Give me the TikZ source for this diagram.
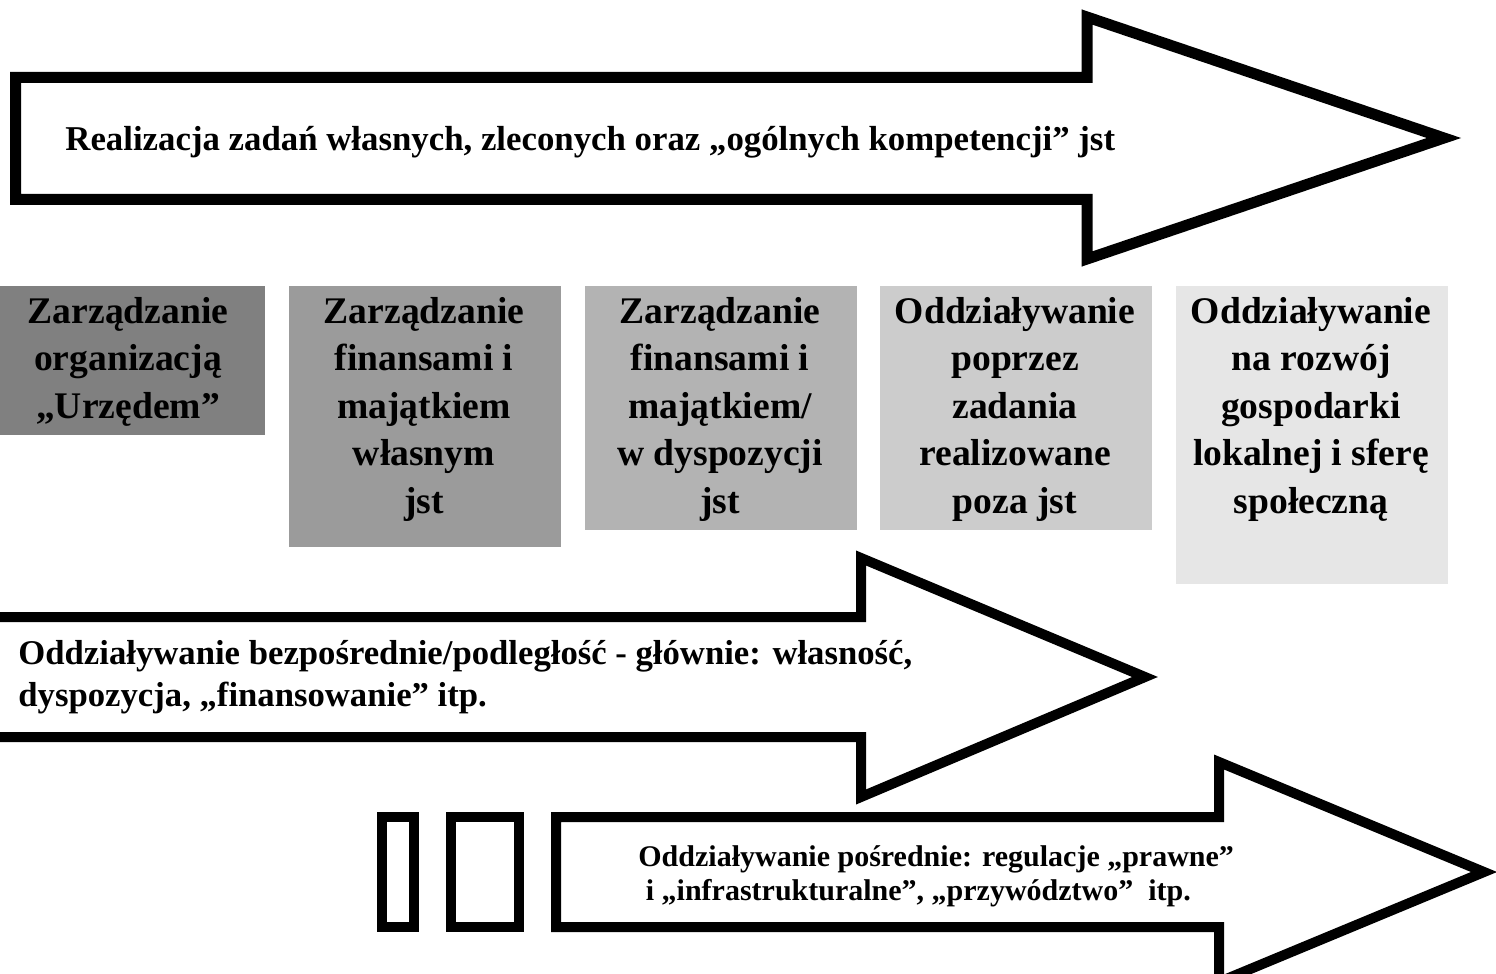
\documentclass[tikz,border=0pt]{standalone}
\usepackage{fontspec}
\setmainfont{Liberation Serif}
\definecolor{gA}{HTML}{808080}
\definecolor{gB}{HTML}{9B9B9B}
\definecolor{gC}{HTML}{B3B3B3}
\definecolor{gD}{HTML}{CCCCCC}
\definecolor{gE}{HTML}{E6E6E6}
\tikzset{
  bigarrow/.style={draw=black, fill=white, line join=miter, miter limit=10},
  barbox/.style={draw=black, fill=white, line width=5pt},
  boxtext/.style={font=\bfseries\fontsize{18.8}{23.75}\selectfont, align=center, anchor=north, inner sep=0pt},
  toptext/.style={font=\bfseries\fontsize{17.4}{21}\selectfont, inner sep=0pt},
  midtext/.style={font=\bfseries\fontsize{17.35}{21}\selectfont, align=left, anchor=north west, inner sep=0pt},
  lowtext/.style={font=\bfseries\fontsize{15}{17}\selectfont, align=left, anchor=north west, inner sep=0pt},
}
\begin{document}
\begin{tikzpicture}[x=0.5pt,y=-0.5pt]
\useasboundingbox (0,0) rectangle (1496,974);
\clip (0,0) rectangle (1496,974);
% top arrow
\draw[bigarrow, line width=5.5pt] (15.5,77.5) -- (1087,77.5) -- (1087,17) -- (1444,138) -- (1087,259) -- (1087,199.5) -- (15.5,199.5) -- cycle;
\node[toptext, anchor=base west] (realizacja) at (65,151) {Realizacja zadań własnych, zleconych oraz „ogólnych kompetencji” jst};
% grey boxes
\fill[gA] (0,286) rectangle (265,435);
\fill[gB] (289,286) rectangle (561,547);
\fill[gC] (585,286) rectangle (857,530);
\fill[gD] (880,286) rectangle (1152,530);
\fill[gE] (1176,286) rectangle (1448,584);
\node[boxtext] (b1) at (128,297) {Zarządzanie\\organizacją\\„Urzędem”};
\node[boxtext] (b2) at (424,297) {Zarządzanie\\finansami i\\majątkiem\\własnym\\jst};
\node[boxtext] (b3) at (720,297) {Zarządzanie\\finansami i\\majątkiem/\\w dyspozycji\\jst};
\node[boxtext] (b4) at (1015,297) {Oddziaływanie\\poprzez\\zadania\\realizowane\\poza jst};
\node[boxtext] (b5) at (1311,297) {Oddziaływanie\\na rozwój\\gospodarki\\lokalnej i sferę\\społeczną};
% middle arrow
\draw[bigarrow, line width=5pt] (-20,617) -- (861,617) -- (861,558) -- (1145,677) -- (861,797) -- (861,737) -- (-20,737) -- cycle;
\node[midtext] (bezp) at (18,640) {Oddziaływanie bezpośrednie/podległość - głównie: własność,\\dyspozycja, „finansowanie” itp.};
% bottom arrow
\draw[barbox] (382,817) rectangle (414,927);
\draw[barbox] (451,817) rectangle (519,927);
\draw[bigarrow, line width=5pt] (556,817) -- (1219,817) -- (1219,762) -- (1484,872) -- (1219,982) -- (1219,927) -- (556,927) -- cycle;
\node[lowtext] (posr) at (638,845) {Oddziaływanie pośrednie: regulacje „prawne”\\\ i „infrastrukturalne”, „przywództwo”\ \ itp.};
\end{tikzpicture}
\end{document}
